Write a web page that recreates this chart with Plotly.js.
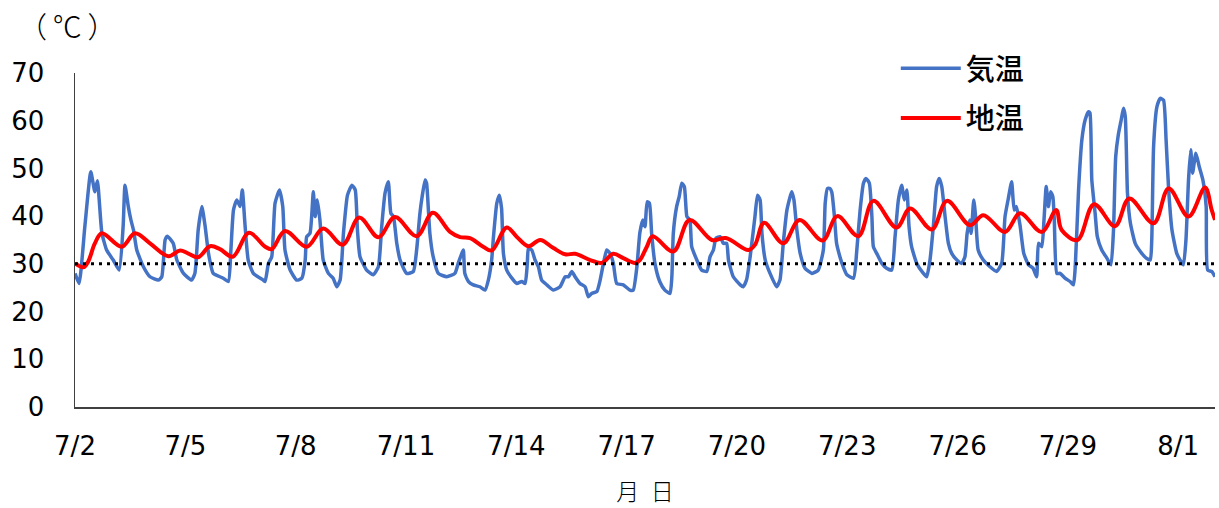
<!DOCTYPE html>
<html>
<head>
<meta charset="utf-8">
<script src="https://cdn.plot.ly/plotly-3.0.1.min.js"></script>
<style>html,body{margin:0;padding:0;background:#fff;}#chart{width:1219px;height:508px;}</style>
</head>
<body>
<div id="chart"></div>
<script>
// time in days since 7/2 00:00
const airDay = [0.00,0.11,0.27,0.43,0.54,0.61,0.73,0.86,1.04,1.20,1.31,1.36,1.45,1.52,1.59,1.68,1.86,2.04,2.27,2.36,2.45,2.51,2.67,2.77,2.95,3.17,3.26,3.35,3.45,3.54,3.63,3.76,4.03,4.17,4.24,4.31,4.40,4.49,4.55,4.62,4.71,4.85,5.12,5.17,5.26,5.35,5.44,5.56,5.65,5.71,5.85,6.03,6.17,6.26,6.30,6.39,6.48,6.53,6.59,6.66,6.75,6.89,7.02,7.12,7.21,7.30,7.41,7.53,7.62,7.68,7.75,7.93,8.11,8.25,8.34,8.43,8.52,8.59,8.66,8.75,8.84,9.02,9.20,9.29,9.38,9.44,9.52,9.56,9.61,9.65,9.74,9.88,10.11,10.33,10.42,10.52,10.56,10.60,10.70,10.83,11.01,11.15,11.24,11.33,11.38,11.47,11.54,11.60,11.65,11.74,11.88,12.01,12.15,12.24,12.30,12.33,12.42,12.51,12.60,12.69,12.83,13.01,13.19,13.33,13.42,13.51,13.60,13.73,13.87,13.96,14.05,14.19,14.28,14.37,14.46,14.55,14.64,14.73,14.91,15.09,15.18,15.28,15.36,15.44,15.50,15.56,15.62,15.68,15.77,15.90,16.04,16.18,16.23,16.27,16.36,16.43,16.50,16.57,16.64,16.72,16.77,16.91,17.04,17.18,17.27,17.36,17.43,17.54,17.63,17.72,17.77,17.90,18.09,18.17,18.26,18.36,18.49,18.56,18.63,18.68,18.77,18.90,19.08,19.17,19.26,19.36,19.49,19.55,19.63,19.72,19.85,20.04,20.21,20.35,20.40,20.46,20.53,20.58,20.65,20.71,20.80,20.89,20.99,21.17,21.26,21.35,21.44,21.51,21.60,21.67,21.71,21.80,21.94,22.07,22.21,22.30,22.39,22.48,22.55,22.62,22.68,22.75,22.89,23.07,23.16,23.25,23.34,23.43,23.50,23.57,23.66,23.75,23.84,23.98,24.11,24.20,24.26,24.33,24.37,24.44,24.49,24.56,24.70,24.88,25.06,25.20,25.29,25.38,25.47,25.54,25.60,25.70,25.80,25.93,26.05,26.15,26.20,26.29,26.35,26.41,26.47,26.53,26.59,26.63,26.70,26.79,26.92,27.06,27.15,27.20,27.29,27.38,27.47,27.56,27.60,27.65,27.74,27.80,27.92,28.06,28.17,28.24,28.30,28.37,28.45,28.51,28.56,28.62,28.70,28.83,28.97,29.13,29.24,29.28,29.33,29.42,29.51,29.60,29.67,29.74,29.83,29.96,30.05,30.14,30.21,30.28,30.34,30.39,30.48,30.57,30.67,30.76,30.80,30.91,31.00];
const airTemp = [28.0,25.9,38.0,49.3,45.1,47.4,36.5,32.9,30.8,28.7,38.0,46.5,42.0,39.2,37.1,32.9,29.4,27.3,26.6,27.3,35.0,35.8,34.3,30.8,28.0,26.6,28.0,37.1,42.0,37.8,32.2,28.0,27.0,26.3,33.0,41.3,43.4,42.0,45.5,38.5,30.8,28.0,26.6,26.3,30.1,31.5,42.7,45.5,42.0,32.9,28.7,26.6,27.0,30.8,35.7,36.4,45.1,39.9,43.4,39.2,30.8,28.0,27.0,25.2,26.6,36.4,44.4,46.5,45.5,37.1,31.5,28.7,27.7,29.4,37.8,44.8,47.2,40.6,39.9,34.3,30.8,28.0,28.4,32.9,40.6,44.1,47.6,46.9,41.3,36.4,31.5,28.0,27.3,28.0,30.1,32.2,32.9,28.0,26.3,25.6,25.2,24.5,26.6,30.8,35.7,42.7,44.4,41.6,32.2,28.7,27.0,25.9,26.3,25.9,30.1,33.3,32.9,30.8,29.4,26.6,25.6,24.5,25.2,27.3,27.3,28.4,27.3,25.9,25.2,23.1,23.8,24.2,26.6,30.1,32.9,32.2,30.1,25.9,25.6,24.5,24.5,29.4,36.5,39.2,37.8,43.0,42.7,36.4,30.1,26.3,24.5,23.8,27.3,36.4,42.0,44.1,46.9,46.2,39.9,39.2,33.6,30.8,28.7,28.4,31.5,32.9,35.4,35.7,34.3,34.3,30.8,27.3,25.6,25.2,26.6,31.5,39.9,44.4,43.4,36.4,30.8,28.0,25.2,26.6,34.3,41.3,45.1,43.4,37.1,32.2,29.1,28.0,28.7,32.9,42.7,45.8,45.8,45.0,40.0,34.3,31.5,29.4,27.7,27.0,32.9,41.3,46.9,47.9,46.9,39.9,33.6,32.2,30.1,29.1,28.7,35.7,43.4,46.5,43.4,45.5,37.8,33.6,30.1,28.0,27.3,30.8,37.8,46.2,47.9,46.2,39.9,34.3,32.2,30.8,30.1,31.5,36.4,39.2,36.4,43.4,39.9,32.9,30.8,29.4,28.4,30.1,39.9,43.7,47.2,41.3,42.0,38.0,32.2,29.8,29.1,27.3,34.3,33.6,39.2,46.2,42.0,45.1,44.1,39.2,28.0,28.0,27.0,26.3,25.6,29.4,45.5,56.0,60.2,61.9,61.6,47.6,40.6,35.7,32.9,31.2,29.8,37.1,52.5,57.0,60.2,62.6,60.9,44.8,38.5,34.3,32.6,31.2,30.8,35.0,54.6,62.9,64.7,64.3,56.0,45.5,37.1,32.2,30.8,29.8,35.0,47.6,53.9,49.0,53.2,50.4,47.6,42.0,28.7,28.4,27.3];

const soilDay = [0.00,0.23,0.36,0.54,0.73,1.27,1.63,2.04,2.54,2.86,3.07,3.35,3.67,3.94,4.29,4.73,5.17,5.35,5.71,6.30,6.75,7.28,7.73,8.25,8.70,9.29,9.73,10.20,10.47,10.74,11.10,11.33,11.74,12.01,12.33,12.65,13.01,13.33,13.60,14.01,14.32,14.64,14.91,15.23,15.36,15.55,15.71,16.27,16.71,17.32,17.70,18.31,18.49,18.74,19.26,19.70,20.33,20.73,21.30,21.71,22.34,22.71,23.30,23.71,24.34,24.70,25.29,25.70,26.29,26.68,26.83,27.26,27.71,28.28,28.67,29.33,29.74,30.28,30.73,30.91,31.00];
const soilTemp = [30.1,29.3,30.5,34.3,36.4,33.6,36.4,34.3,31.6,32.8,32.2,31.4,33.7,33.1,31.5,36.5,33.6,33.1,36.9,33.6,37.4,34.0,39.7,35.6,39.8,35.8,40.7,36.7,35.6,35.4,33.6,32.8,37.6,35.7,33.7,35.0,33.3,32.0,32.1,30.8,30.2,32.1,31.2,30.2,30.8,33.6,35.8,32.6,39.2,35.0,35.4,32.9,34.0,38.6,34.3,39.2,34.9,40.0,35.8,43.2,37.6,41.6,37.2,43.2,38.1,40.2,36.7,40.6,36.7,41.3,37.1,35.0,42.5,37.9,43.7,38.5,45.8,39.9,46.0,41.3,39.2];

const refLevel = 30;
const seriesNames = ['気温', '地温'];
const tickDays = [0,3,6,9,12,15,18,21,24,27,30];
const tickLabels = ['7/2','7/5','7/8','7/11','7/14','7/17','7/20','7/23','7/26','7/29','8/1'];
const dayRange = [0, 31];

const tickFont = {size: 26, family: 'DejaVu Sans, sans-serif', color: '#000'};

const traces = [
  {x: airDay, y: airTemp, name: seriesNames[0], mode: 'lines', type: 'scatter',
   line: {color: '#4472C4', width: 3.5, shape: 'spline', smoothing: 0.5}, legendgroup: 'a'},
  {x: soilDay, y: soilTemp, name: seriesNames[1], mode: 'lines', type: 'scatter',
   line: {color: '#FF0000', width: 4, shape: 'spline', smoothing: 1}, legendgroup: 'b'},
  {x: dayRange, y: [refLevel, refLevel], mode: 'lines', type: 'scatter', showlegend: false,
   line: {color: '#000000', width: 3, dash: '3px,5px'}, hoverinfo: 'skip'}
];

const layout = {
  width: 1219, height: 508,
  margin: {l: 75, r: 4, t: 73, b: 101},
  paper_bgcolor: '#ffffff', plot_bgcolor: '#ffffff',
  font: {family: 'DejaVu Sans, sans-serif', color: '#000', size: 26},
  showlegend: true,
  legend: {x: 0.72, y: 1.09, xanchor: 'left', yanchor: 'top', bgcolor: 'rgba(0,0,0,0)',
    font: {family: 'Noto Sans CJK JP', size: 29, color: '#000', weight: 500},
    itemwidth: 60, traceorder: 'grouped', tracegroupgap: 9},
  xaxis: {range: dayRange, tickmode: 'array', tickvals: tickDays, ticktext: tickLabels,
    showgrid: false, zeroline: false, showline: true, linecolor: '#404040', linewidth: 1.5,
    ticks: '', ticklabelstandoff: 15, tickfont: tickFont,
    title: {text: '月\u2002日', font: {family: 'Noto Sans CJK JP', size: 23, color: '#000', weight: 300}, standoff: 24}},
  yaxis: {range: [0, 70], tickmode: 'linear', tick0: 0, dtick: 10,
    showgrid: false, zeroline: false, showline: true, linecolor: '#404040', linewidth: 1.5,
    ticks: '', ticklabelstandoff: 24, tickfont: tickFont},
  annotations: [
    {text: '（\u2009℃\u2009）', xref: 'paper', yref: 'paper', x: -0.007, y: 1.144, xanchor: 'center', yanchor: 'middle',
     showarrow: false, font: {family: 'Noto Sans CJK JP', size: 29, color: '#000', weight: 300}}
  ]
};

Plotly.newPlot('chart', traces, layout, {displayModeBar: false, staticPlot: true});
</script>
</body>
</html>
